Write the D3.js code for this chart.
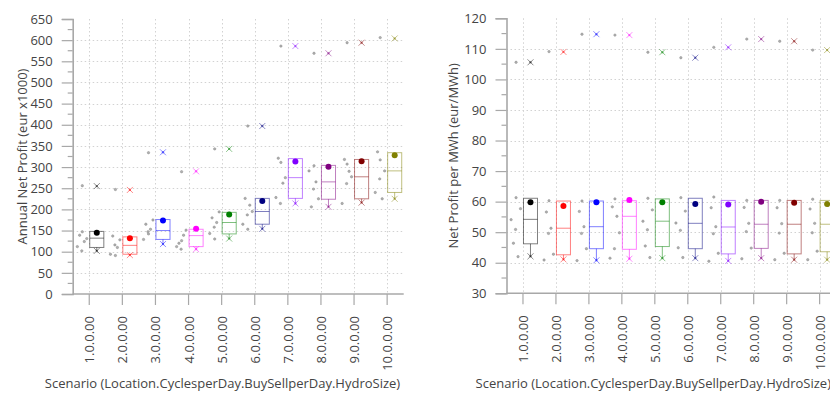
<!DOCTYPE html>
<html>
<head>
<meta charset="utf-8">
<script src="https://cdn.jsdelivr.net/npm/d3@7"></script>
<style>
  html, body { margin: 0; padding: 0; background: #fff; }
  svg { display: block; }
  text { font-family: "Open Sans", "DejaVu Sans", sans-serif; fill: #444; }
</style>
</head>
<body>
<svg id="chart" width="830" height="394"></svg>
<script>
// Scenario labels: Location.CyclesperDay.BuySellperDay.HydroSize
const scenarios = ["1.0.0.00", "2.0.0.00", "3.0.0.00", "4.0.0.00", "5.0.0.00",
                   "6.0.0.00", "7.0.0.00", "8.0.0.00", "9.0.0.00", "10.0.0.00"];
const scenarioColors = ["#000000", "#ff0000", "#0000ff", "#ff00ff", "#008000",
                        "#000080", "#8000ff", "#800080", "#800000", "#808000"];

// Annual net profit (eur x1000)
const annualQ1     = [110,  94, 129, 112, 142, 165, 226, 224, 225, 240];
const annualMedian = [132, 115, 150, 138, 169, 195, 275, 265, 277, 291];
const annualQ3     = [148, 135, 176, 153, 193, 226, 320, 304, 318, 334];
const annualMin    = [102,  92, 118, 106, 131, 154, 214, 206, 216, 225];
const annualMax    = [255, 246, 335, 290, 343, 397, 586, 569, 594, 604];
const annualMarker = [145, 132, 174, 154, 188, 220, 313, 301, 314, 328];
const annualPoints = [
  [256, 147, 131, 112, 102, 139, 124],
  [247,  91, 128,  94, 116, 137, 110],
  [334, 142, 175, 129, 147, 165, 153],
  [289, 126, 151, 112, 106, 120, 139],
  [343, 130, 194, 143, 158, 180, 169],
  [397, 153, 195, 165, 187, 226, 210],
  [586, 311, 275, 228, 214, 321, 262],
  [569, 303, 225, 291, 248, 206, 265],
  [594, 307, 277, 214, 261, 318, 290],
  [606, 317, 291, 240, 272, 336, 225]
];
const annualTicks = d3.range(0, 651, 50);

// Net profit per MWh (eur/MWh)
const mwhQ1     = [46.2, 42.6, 44.6, 44.4, 45.3, 44.6, 42.9, 44.7, 42.9, 43.6];
const mwhMedian = [54.2, 51.3, 51.8, 55.2, 53.6, 52.9, 51.7, 52.6, 52.6, 52.6];
const mwhQ3     = [61.1, 60.2, 60.2, 60.3, 60.9, 61.1, 60.4, 60.4, 60.4, 60.4];
const mwhMin    = [42.1, 41.1, 40.8, 41.3, 41.5, 41.5, 40.6, 41.5, 41.0, 41.0];
const mwhMax    = [105.6, 109.0, 114.8, 114.5, 108.9, 107.1, 110.5, 113.2, 112.5, 109.6];
const mwhMarker = [59.8, 58.6, 59.8, 60.5, 59.8, 59.2, 59.1, 60.0, 59.6, 59.2];
const mwhPoints = [
  [105.6, 61.3, 57.7, 54.1, 50.9, 46.4, 42.0],
  [109.1, 60.3, 42.8, 40.9, 49.6, 56.6, 51.3],
  [114.8, 60.2, 44.6, 40.7, 49.6, 56.8, 51.8],
  [114.5, 60.9, 49.8, 41.5, 44.6, 58.3, 55.2],
  [108.9, 61.1, 57.3, 53.6, 50.8, 45.5, 41.7],
  [107.1, 61.3, 56.9, 53.0, 50.6, 44.9, 41.7],
  [110.5, 61.5, 43.1, 40.5, 49.5, 58.0, 51.8],
  [113.2, 60.4, 44.8, 41.3, 50.2, 58.1, 52.9],
  [112.5, 60.4, 43.1, 41.0, 49.7, 58.0, 52.8],
  [109.6, 60.8, 43.8, 41.0, 49.8, 57.6, 52.9]
];
const mwhTicks = d3.range(30, 121, 10);

const xTitle = "Scenario (Location.CyclesperDay.BuySellperDay.HydroSize)";

// horizontal offsets (fraction of the band step) used to spread raw points left of each tick
const JITTER = [-0.21, -0.21, -0.075, -0.36, -0.225, -0.29, -0.15];

const svg = d3.select("#chart");

function drawPanel(cfg) {
  const g = svg.append("g");
  const x = d3.scaleBand().domain(scenarios).range([cfg.left, cfg.right]).padding(0);
  const y = d3.scaleLinear().domain(cfg.domain).range([cfg.bottom, cfg.top]);
  const step = x.step();
  const tickX = s => x(s) + step / 2;

  // grid
  const grid = g.append("g").attr("stroke", "#d2d2d2").attr("stroke-width", 1)
    .attr("stroke-dasharray", "1.5,2.5").attr("fill", "none");
  grid.selectAll("line.h")
    .data(cfg.ticks.filter(t => t > cfg.domain[0] && t < cfg.domain[1]))
    .join("line")
    .attr("x1", cfg.left).attr("x2", cfg.right)
    .attr("y1", d => Math.round(y(d)) + 0.5).attr("y2", d => Math.round(y(d)) + 0.5);
  grid.selectAll("line.v").data(scenarios).join("line")
    .attr("x1", d => Math.round(tickX(d)) + 0.5).attr("x2", d => Math.round(tickX(d)) + 0.5)
    .attr("y1", cfg.top).attr("y2", cfg.bottom);

  // y axis
  const yAxis = d3.axisLeft(y).tickValues(cfg.ticks).tickSize(11).tickPadding(9)
    .tickFormat(d3.format("d"));
  const ya = g.append("g").attr("transform", `translate(${cfg.left},0)`).call(yAxis);
  ya.select(".domain").attr("stroke", "#a8a8a8").attr("stroke-width", 1.6);
  ya.selectAll(".tick line").attr("stroke", "#a8a8a8").attr("stroke-width", 1.2);
  ya.selectAll(".tick text").attr("font-size", 13).attr("fill", "#444")
    .attr("font-family", "Open Sans, sans-serif");
  // minor ticks
  const minor = d3.range(cfg.domain[0] + cfg.minor, cfg.domain[1], cfg.minor * 2);
  ya.selectAll("line.minor").data(minor).join("line")
    .attr("x1", -5).attr("x2", 0)
    .attr("y1", d => y(d)).attr("y2", d => y(d))
    .attr("stroke", "#a8a8a8").attr("stroke-width", 1.2);

  // x axis
  const xa = g.append("g").attr("transform", `translate(0,${cfg.bottom})`);
  xa.append("line").attr("x1", cfg.left).attr("x2", cfg.right).attr("y1", 0).attr("y2", 0)
    .attr("stroke", "#a8a8a8").attr("stroke-width", 1.6);
  xa.selectAll("line.t").data(scenarios).join("line")
    .attr("x1", d => tickX(d)).attr("x2", d => tickX(d)).attr("y1", 0).attr("y2", 11)
    .attr("stroke", "#a8a8a8").attr("stroke-width", 1.2);
  xa.selectAll("text").data(scenarios).join("text")
    .attr("transform", d => `translate(${tickX(d)},22) rotate(-90)`)
    .attr("text-anchor", "end").attr("dominant-baseline", "central")
    .attr("font-size", 13).text(d => d);

  // titles
  g.append("text").attr("transform", `translate(${cfg.yTitleX},${(cfg.top + cfg.bottom) / 2}) rotate(-90)`)
    .attr("text-anchor", "middle").attr("dominant-baseline", "central")
    .attr("font-size", 13).text(cfg.yTitle);
  g.append("text").attr("x", cfg.xTitleX).attr("y", 388)
    .attr("text-anchor", "middle").attr("font-size", 13).text(xTitle);

  // raw points
  const pts = [];
  scenarios.forEach((s, i) => cfg.points[i].forEach((v, j) =>
    pts.push({ x: tickX(s) + JITTER[j] * step, v })));
  g.append("g").selectAll("circle").data(pts).join("circle")
    .attr("cx", d => d.x).attr("cy", d => y(d.v)).attr("r", 1.2)
    .attr("fill", "#b0b0b0").attr("stroke", "#8a8a8a").attr("stroke-width", 0.5);

  // boxes
  const bw = step * 0.425;
  const boxes = g.append("g").selectAll("g").data(scenarios).join("g")
    .attr("transform", d => `translate(${tickX(d) + 0.5},0)`);
  const col = (d, i) => scenarioColors[i];
  boxes.append("line")
    .attr("x1", bw / 2).attr("x2", bw / 2)
    .attr("y1", (d, i) => y(cfg.q1[i])).attr("y2", (d, i) => y(cfg.min[i]))
    .attr("stroke", col).attr("stroke-opacity", 0.5);
  boxes.append("rect")
    .attr("x", 0).attr("width", bw)
    .attr("y", (d, i) => y(cfg.q3[i]))
    .attr("height", (d, i) => y(cfg.q1[i]) - y(cfg.q3[i]))
    .attr("fill", "none").attr("stroke", col).attr("stroke-opacity", 0.5);
  boxes.append("line")
    .attr("x1", 0).attr("x2", bw)
    .attr("y1", (d, i) => y(cfg.median[i])).attr("y2", (d, i) => y(cfg.median[i]))
    .attr("stroke", col).attr("stroke-opacity", 0.5);

  // min / max crosses
  const cross = "M-3,-3L3,3M-3,3L3,-3";
  ["min", "max"].forEach(k => {
    boxes.append("path")
      .attr("d", cross)
      .attr("transform", (d, i) => `translate(${bw / 2},${y(cfg[k][i])})`)
      .attr("stroke", col).attr("stroke-opacity", 0.45).attr("fill", "none");
    boxes.append("circle")
      .attr("cx", bw / 2).attr("cy", (d, i) => y(cfg[k][i])).attr("r", 1.2)
      .attr("fill", col).attr("fill-opacity", 0.45);
  });

  // highlighted marker
  boxes.append("circle")
    .attr("cx", bw / 2).attr("cy", (d, i) => y(cfg.marker[i])).attr("r", 3)
    .attr("fill", col);
}

drawPanel({
  left: 72.7, right: 403.7, top: 19, bottom: 294,
  domain: [0, 650], ticks: annualTicks, minor: 25,
  q1: annualQ1, median: annualMedian, q3: annualQ3,
  min: annualMin, max: annualMax, marker: annualMarker, points: annualPoints,
  yTitle: "Annual Net Profit (eur x1000)", yTitleX: 22, xTitleX: 222.5
});

drawPanel({
  left: 506.5, right: 836.1, top: 18.3, bottom: 293.3,
  domain: [30, 120], ticks: mwhTicks, minor: 5,
  q1: mwhQ1, median: mwhMedian, q3: mwhQ3,
  min: mwhMin, max: mwhMax, marker: mwhMarker, points: mwhPoints,
  yTitle: "Net Profit per MWh (eur/MWh)", yTitleX: 453, xTitleX: 653.3
});
</script>
</body>
</html>
